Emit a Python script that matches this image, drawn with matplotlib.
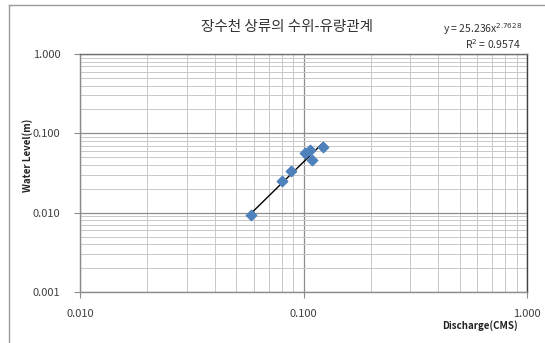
import matplotlib
matplotlib.use('Agg')
import matplotlib.pyplot as plt
from matplotlib.ticker import LogLocator, FixedLocator, FormatStrFormatter, NullFormatter
from matplotlib.lines import Line2D
import numpy as np

plt.rcParams['font.family'] = ['Noto Sans CJK KR', 'DejaVu Sans']

# data
discharge = [0.058, 0.080, 0.088, 0.102, 0.107, 0.109, 0.122]
water_level = [0.0093, 0.025, 0.0335, 0.056, 0.0625, 0.046, 0.068]

# power trendline as printed on the chart
coef_a = 25.236
coef_b = 2.7628
r2_text = 'R$^2$ = 0.9574'

x_ticks = [0.01, 0.1, 1.0]
y_ticks = [0.001, 0.01, 0.1, 1.0]

W, H = 545, 343
fig = plt.figure(figsize=(W / 100, H / 100), dpi=100)
ax = fig.add_axes([80 / W, 1 - 292 / H, (527 - 80) / W, (292 - 54) / H])

ax.set_xscale('log')
ax.set_yscale('log')
ax.set_xlim(0.01, 1.0)
ax.set_ylim(0.001, 1.0)

ax.xaxis.set_major_locator(FixedLocator(x_ticks))
ax.yaxis.set_major_locator(FixedLocator(y_ticks))
ax.xaxis.set_minor_locator(LogLocator(base=10, subs=np.arange(2, 10)))
ax.yaxis.set_minor_locator(LogLocator(base=10, subs=np.arange(2, 10)))
ax.xaxis.set_major_formatter(FormatStrFormatter('%.3f'))
ax.yaxis.set_major_formatter(FormatStrFormatter('%.3f'))
ax.xaxis.set_minor_formatter(NullFormatter())
ax.yaxis.set_minor_formatter(NullFormatter())

ax.grid(True, which='major', color='#8c8c8c', lw=0.9)
ax.grid(True, which='minor', color='#c8c8c8', lw=0.7)
ax.set_axisbelow(True)

ax.tick_params(which='major', length=4, width=0.8, color='#8c8c8c',
               labelsize=8, labelcolor='#404040')
ax.tick_params(axis='x', which='major', pad=8)
ax.tick_params(axis='y', which='major', pad=10)
ax.tick_params(which='minor', length=0)
for s in ax.spines.values():
    s.set_color('#8c8c8c')
    s.set_linewidth(1.0)
ax.spines['right'].set_color('#404040')
ax.spines['top'].set_color('#6e6e6e')

# trendline across the data range
x_ends = np.array([min(discharge), max(discharge)])
ax.plot(x_ends, coef_a * x_ends ** coef_b, color='black', lw=1.0, zorder=3)
ax.scatter(discharge, water_level, marker='D', s=28, color='#4f81bd',
           edgecolors='#4f81bd', zorder=4)

fig.text(287 / W, 1 - 27 / H, '장수천 상류의 수위-유량관계', ha='center', va='center',
         fontsize=10.5, color='#333333')
fig.text(522 / W, 1 - 29 / H, 'y = 25.236x$^{2.7628}$', ha='right', va='center',
         fontsize=7.5, color='#333333')
fig.text(521 / W, 1 - 44 / H, r2_text, ha='right', va='center',
         fontsize=7.5, color='#333333')

fig.text(28 / W, 1 - 155 / H, 'Water Level(m)', rotation=90, ha='center', va='center',
         fontsize=7, fontweight='bold', color='#222222')
fig.text(480 / W, 1 - 326 / H, 'Discharge(CMS)', ha='center', va='center',
         fontsize=7, fontweight='bold', color='#222222')

# chart frame
fig.add_artist(Line2D([9 / W, 9 / W], [0, 1 - 5 / H], transform=fig.transFigure,
                      color='#9a9a9a', lw=1.0))
fig.add_artist(Line2D([9 / W, 1], [1 - 5 / H, 1 - 5 / H], transform=fig.transFigure,
                      color='#9a9a9a', lw=1.0))

fig.savefig('out.png', dpi=100)
